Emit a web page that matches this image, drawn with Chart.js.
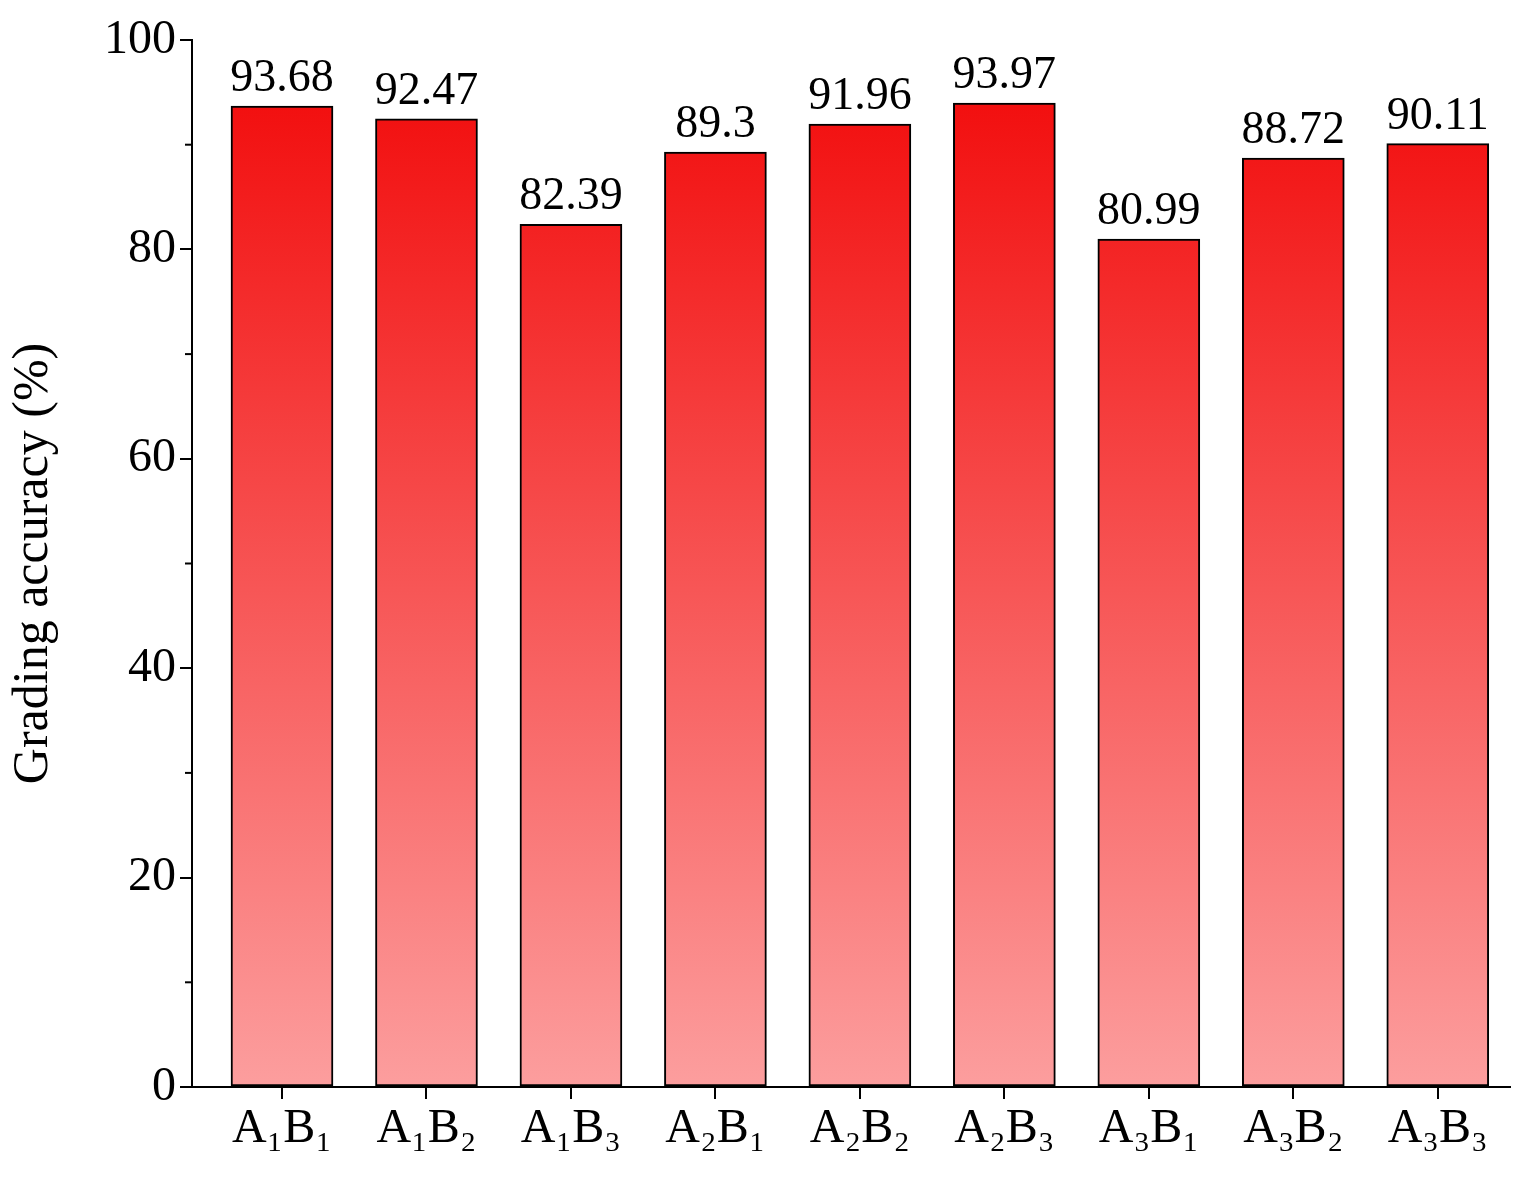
<!DOCTYPE html>
<html>
<head>
<meta charset="utf-8">
<script src="https://cdn.jsdelivr.net/npm/chart.js@4"></script>
<style>
  html, body { margin: 0; padding: 0; background: #fff; }
  #wrap { width: 1526px; height: 1184px; }
</style>
</head>
<body>
<div id="wrap"><canvas id="acc"></canvas></div>
<script>
const categories = ['A₁B₁', 'A₁B₂', 'A₁B₃', 'A₂B₁', 'A₂B₂', 'A₂B₃', 'A₃B₁', 'A₃B₂', 'A₃B₃'];
const accuracy = [93.68, 92.47, 82.39, 89.3, 91.96, 93.97, 80.99, 88.72, 90.11];
const yTicks = [0, 20, 40, 60, 80, 100];

const serif = '"Liberation Serif", "DejaVu Serif", serif';

// values above the bars + minor ticks on y axis
const extras = {
  id: 'extras',
  afterDatasetsDraw(chart) {
    const ctx = chart.ctx;
    const meta = chart.getDatasetMeta(0);
    ctx.save();
    ctx.fillStyle = '#000';
    ctx.font = '46px ' + serif;
    ctx.textAlign = 'center';
    ctx.textBaseline = 'bottom';
    meta.data.forEach((bar, i) => {
      ctx.fillText(String(accuracy[i]), bar.x, bar.y - 4);
    });
    const y = chart.scales.y;
    const left = chart.chartArea.left;
    ctx.strokeStyle = '#000';
    ctx.lineWidth = 2;
    for (let v = 10; v < 100; v += 20) {
      const py = y.getPixelForValue(v);
      ctx.beginPath();
      ctx.moveTo(left, py);
      ctx.lineTo(left - 7, py);
      ctx.stroke();
    }
    ctx.restore();
  }
};

const ctx = document.getElementById('acc').getContext('2d');
new Chart(ctx, {
  type: 'bar',
  data: {
    datasets: [{
      data: accuracy.map((v, i) => ({ x: i + 1, y: v })),
      backgroundColor(c) {
        const area = c.chart.chartArea;
        if (!area) return '#f55';
        const yScale = c.chart.scales.y;
        const g = c.chart.ctx.createLinearGradient(0, yScale.getPixelForValue(95), 0, area.bottom);
        g.addColorStop(0, '#f20e0e');
        g.addColorStop(1, '#fc9e9e');
        return g;
      },
      borderColor: '#000',
      borderWidth: 2,
      borderSkipped: false,
      barThickness: 102
    }]
  },
  options: {
    responsive: true,
    maintainAspectRatio: false,
    animation: false,
    layout: { padding: { top: 40, right: 16, left: 0, bottom: 0 } },
    plugins: { legend: { display: false }, tooltip: { enabled: false } },
    scales: {
      x: {
        type: 'linear',
        offset: false,
        min: 0.377,
        max: 9.5,
        afterBuildTicks(axis) { axis.ticks = categories.map((c, i) => ({ value: i + 1 })); },
        afterFit(axis) { axis.height = 97; },
        border: { color: '#000', width: 2 },
        grid: { offset: false, drawOnChartArea: false, tickLength: 12, color: '#000', lineWidth: 2 },
        ticks: {
          color: '#000',
          font: { family: serif, size: 48 },
          padding: 2,
          maxRotation: 0,
          callback: (v) => categories[v - 1] || ''
        }
      },
      y: {
        min: 0,
        max: 100,
        afterBuildTicks(axis) { axis.ticks = yTicks.map(v => ({ value: v })); },
        afterFit(axis) { axis.width = 192; },
        border: { color: '#000', width: 2 },
        grid: { drawOnChartArea: false, tickLength: 12, color: '#000', lineWidth: 2 },
        ticks: { color: '#000', font: { family: serif, size: 48 }, padding: 4 },
        title: {
          display: true,
          text: 'Grading accuracy (%)',
          color: '#000',
          font: { family: serif, size: 50 },
          padding: { bottom: 4 }
        }
      }
    }
  },
  plugins: [extras]
});
</script>
</body>
</html>
